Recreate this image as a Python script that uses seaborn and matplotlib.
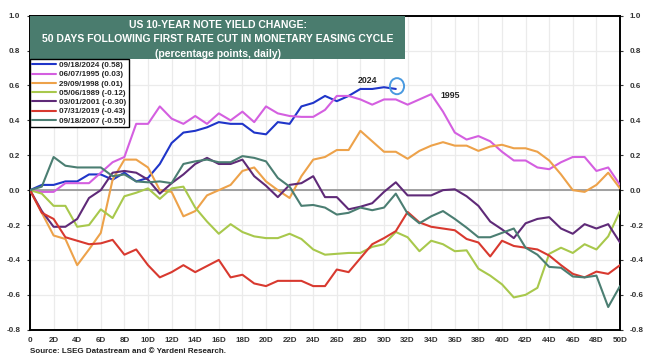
import numpy as np
import pandas as pd
import matplotlib
matplotlib.use('Agg')
import matplotlib.pyplot as plt
from matplotlib.patches import Rectangle, Ellipse
import seaborn as sns

# yield change in percentage points, day 0..50 after first cut
days = list(range(51))

y2024 = [0, 0.03, 0.03, 0.05, 0.05, 0.09, 0.09, 0.06, 0.10, 0.05,
         0.07, 0.15, 0.27, 0.33, 0.34, 0.36, 0.39, 0.38, 0.38, 0.33,
         0.32, 0.39, 0.38, 0.48, 0.50, 0.54, 0.51, 0.54, 0.58, 0.58,
         0.59, 0.58]
y1995 = [0, -0.01, -0.01, 0.04, 0.04, 0.04, 0.10, 0.16, 0.19, 0.38,
         0.38, 0.48, 0.41, 0.38, 0.425, 0.38, 0.44, 0.40, 0.45, 0.39,
         0.48, 0.44, 0.425, 0.42, 0.42, 0.46, 0.54, 0.54, 0.52, 0.49,
         0.52, 0.52, 0.49, 0.52, 0.55, 0.45, 0.33, 0.29, 0.31, 0.28,
         0.22, 0.17, 0.17, 0.13, 0.12, 0.16, 0.19, 0.19, 0.11, 0.13,
         0.03]
y1998 = [0, -0.13, -0.26, -0.28, -0.43, -0.34, -0.245, 0.06, 0.175, 0.175,
         0.13, 0.0, -0.01, -0.15, -0.12, -0.03, 0.0, 0.03, 0.11, 0.13,
         0.05, 0.0, -0.045, 0.08, 0.175, 0.19, 0.23, 0.23, 0.34, 0.28,
         0.22, 0.22, 0.18, 0.225, 0.255, 0.275, 0.255, 0.255, 0.225, 0.25,
         0.26, 0.24, 0.24, 0.22, 0.17, 0.09, 0.0, -0.01, 0.03, 0.10,
         0.01]
y1989 = [0, -0.02, -0.09, -0.09, -0.21, -0.20, -0.11, -0.16, -0.035, -0.015,
         0.01, -0.05, 0.01, 0.02, -0.10, -0.18, -0.25, -0.195, -0.24, -0.265,
         -0.275, -0.275, -0.25, -0.28, -0.34, -0.37, -0.365, -0.36, -0.36, -0.325,
         -0.31, -0.24, -0.27, -0.35, -0.29, -0.31, -0.35, -0.345, -0.45, -0.49,
         -0.54, -0.615, -0.60, -0.56, -0.365, -0.33, -0.36, -0.31, -0.34, -0.265,
         -0.12]
y2001 = [0, -0.12, -0.21, -0.21, -0.165, -0.045, 0.0, 0.10, 0.11, 0.10,
         0.06, -0.02, 0.04, 0.09, 0.15, 0.185, 0.15, 0.15, 0.175, 0.08,
         0.025, -0.04, 0.03, 0.04, 0.08, -0.04, -0.04, -0.11, -0.095, -0.075,
         -0.01, 0.045, -0.03, -0.03, -0.03, 0.0, 0.005, -0.035, -0.09, -0.18,
         -0.225, -0.275, -0.19, -0.165, -0.155, -0.22, -0.25, -0.195, -0.22, -0.195,
         -0.30]
y2019 = [0, -0.13, -0.165, -0.27, -0.29, -0.31, -0.305, -0.285, -0.37, -0.34,
         -0.43, -0.50, -0.47, -0.43, -0.47, -0.435, -0.40, -0.50, -0.485, -0.535,
         -0.55, -0.52, -0.52, -0.52, -0.55, -0.55, -0.455, -0.47, -0.39, -0.31,
         -0.275, -0.235, -0.125, -0.185, -0.21, -0.22, -0.23, -0.28, -0.30, -0.38,
         -0.29, -0.32, -0.33, -0.34, -0.375, -0.43, -0.48, -0.50, -0.467, -0.48,
         -0.43]
y2007 = [0, 0.02, 0.19, 0.14, 0.13, 0.13, 0.13, 0.08, 0.09, 0.05,
         0.045, 0.05, 0.04, 0.15, 0.165, 0.175, 0.16, 0.16, 0.195, 0.185,
         0.165, 0.07, 0.02, -0.09, -0.085, -0.10, -0.14, -0.13, -0.10, -0.115,
         -0.10, -0.02, -0.135, -0.19, -0.15, -0.12, -0.165, -0.215, -0.27, -0.27,
         -0.245, -0.22, -0.33, -0.37, -0.44, -0.445, -0.495, -0.50, -0.49, -0.67,
         -0.55]

legend_labels = ['09/18/2024 (0.58)', '06/07/1995 (0.03)', '29/09/1998 (0.01)',
                 '05/06/1989 (-0.12)', '03/01/2001 (-0.30)', '07/31/2019 (-0.43)',
                 '09/18/2007 (-0.55)']
series = [y2024, y1995, y1998, y1989, y2001, y2019, y2007]
colors = ['#1f35c9', '#d45fe0', '#eda24a', '#a8c84c', '#5f2a78', '#d8392f', '#4b7e72']

x_ticks = list(range(0, 51, 2))
x_tick_labels = ['0'] + [f'{d}D' for d in x_ticks[1:]]
y_ticks = [-0.8, -0.6, -0.4, -0.2, 0.0, 0.2, 0.4, 0.6, 0.8, 1.0]


def make_chart(out_path='out.png'):
    sns.set_style('white')
    plt.rcParams['font.family'] = ['Liberation Sans', 'DejaVu Sans']
    plt.rcParams['font.weight'] = 'bold'

    fig = plt.figure(figsize=(6.48, 3.59), dpi=100)
    ax = fig.add_axes([0.0463, 0.0816, 0.9105, 0.8747])

    # grid + zero line
    for x in x_ticks:
        ax.axvline(x, color='#ebebeb', lw=0.9, zorder=0)
    for y in y_ticks:
        ax.axhline(y, color='#ebebeb', lw=0.9, zorder=0)
    ax.axhline(0, color='#9a9a9a', lw=1.3, zorder=1)

    for vals, col, lab in zip(series, colors, legend_labels):
        sns.lineplot(x=days[:len(vals)], y=vals, ax=ax, color=col,
                     linewidth=1.5, label=lab, zorder=3)

    ax.set_xlim(0, 50)
    ax.set_ylim(-0.8, 1.0)
    ax.set_xticks(x_ticks)
    ax.set_xticklabels(x_tick_labels)
    ax.set_yticks(y_ticks)
    ax.set_yticklabels([f'{v:.1f}' for v in y_ticks])
    ax.set_xlabel('')
    ax.set_ylabel('')
    ax.tick_params(axis='both', labelsize=5.8, colors='#333333', length=2, width=0.8)
    ax.tick_params(axis='x', pad=3)
    ax.tick_params(axis='y', left=True, right=True, labelright=True, direction='out', pad=5)
    for s in ax.spines.values():
        s.set_color('black')
        s.set_linewidth(1.4)

    # title box
    ax.add_patch(Rectangle((0, 0.862), 0.636, 0.138, transform=ax.transAxes,
                           facecolor='#4a7c6e', edgecolor='none', zorder=5))
    title_lines = ['US 10-YEAR NOTE YIELD CHANGE:',
                   '50 DAYS FOLLOWING FIRST RATE CUT IN MONETARY EASING CYCLE',
                   '(percentage points, daily)']
    for i, t in enumerate(title_lines):
        ax.text(0.318, 0.971 - i * 0.046, t, transform=ax.transAxes, ha='center',
                va='center', color='white', fontsize=7.5, fontweight='bold', zorder=6)

    leg = ax.legend(loc='upper left', bbox_to_anchor=(0.0, 0.862), fontsize=5.8,
                    frameon=True, fancybox=False, edgecolor='black', framealpha=1,
                    borderpad=0.3, labelspacing=0.2, handlelength=2.9,
                    handletextpad=0.4, borderaxespad=0)
    leg.get_frame().set_linewidth(1.0)
    leg.set_zorder(7)

    # annotations
    ax.text(28.6, 0.63, '2024', fontsize=6.3, fontweight='bold', ha='center', va='center')
    ax.text(35.6, 0.545, '1995', fontsize=6.3, fontweight='bold', ha='center', va='center')
    ax.add_patch(Ellipse((31.1, 0.596), 1.2, 0.092, fill=False, edgecolor='#4a9ae0',
                         lw=1.4, zorder=4))

    fig.text(0.047, 0.02, 'Source: LSEG Datastream and \u00a9 Yardeni Research.',
             fontsize=5.8, fontweight='bold', color='#222222', ha='left', va='center')

    fig.savefig(out_path, dpi=100)
    plt.close(fig)


if __name__ == '__main__':
    make_chart()
